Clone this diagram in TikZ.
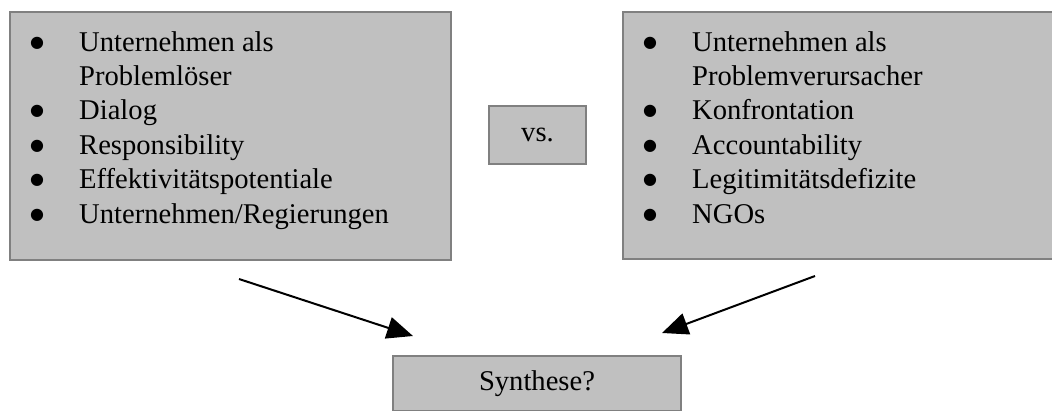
\documentclass[tikz,border=0pt]{standalone}
\usepackage{fontspec}
\setmainfont{Liberation Serif}
\newfontfamily\bulletfont{DejaVu Sans}
\usetikzlibrary{arrows.meta}
\definecolor{boxfill}{RGB}{192,192,192}
\definecolor{boxline}{RGB}{128,128,128}
\newcommand\ListBullet{\makebox[49pt][l]{\raisebox{4pt}{\bulletfont\fontsize{16}{16}\selectfont ●}}}
\newcommand\ListIndent{\hspace*{49pt}}

\begin{document}
\begin{tikzpicture}[x=1pt,y=-1pt]
\useasboundingbox (0,0) rectangle (1052,410);

\coordinate (L_box) at (10,12);
\coordinate (R_box) at (623,12);
\coordinate (L_list) at (30,31);
\coordinate (R_list) at (643,31);
\coordinate (VS) at (537.5,135);
\coordinate (SY) at (537,383.5);
\coordinate (A1_start) at (239,279);
\coordinate (A1_end) at (413,336);
\coordinate (A2_start) at (815,276);
\coordinate (A2_end) at (662,333);


\tikzset{BoxStyle/.style = {
 draw = boxline,
 fill = boxfill,
 line width = 2pt,
 inner sep = 0pt,
 outer sep = 0pt,
 font = \fontsize{28.6}{34.4}\selectfont} }
\tikzset{ListStyle/.style = {
 anchor = north west,
 align = left,
 inner sep = 0pt,
 font = \fontsize{28.6}{34.4}\selectfont} }

\node[BoxStyle, anchor=north west, minimum width=441pt, minimum height=248pt] (Loeser) at (L_box) {};
\node[BoxStyle, anchor=north west, minimum width=432pt, minimum height=247pt] (Verursacher) at (R_box) {};
\node[BoxStyle, minimum width=97pt, minimum height=58pt] (Versus) at (VS) {vs.};
\node[BoxStyle, minimum width=288pt, minimum height=55pt] (Synthese) at (SY) {Synthese?};

\node[ListStyle] (LoeserList) at (L_list) {\ListBullet Unternehmen als\\
 \ListIndent Problemlöser\\
 \ListBullet Dialog\\
 \ListBullet Responsibility\\
 \ListBullet Effektivitätspotentiale\\
 \ListBullet Unternehmen/Regierungen};
\node[ListStyle] (VerursacherList) at (R_list) {\ListBullet Unternehmen als\\
 \ListIndent Problemverursacher\\
 \ListBullet Konfrontation\\
 \ListBullet Accountability\\
 \ListBullet Legitimitätsdefizite\\
 \ListBullet NGOs};


\tikzset{ArrowStyle/.style = {line width=2pt, -{Triangle[length=26pt, width=22pt]}} }

\draw[ArrowStyle] (A1_start) -- (A1_end);
\draw[ArrowStyle] (A2_start) -- (A2_end);

\end{tikzpicture}
\end{document}
